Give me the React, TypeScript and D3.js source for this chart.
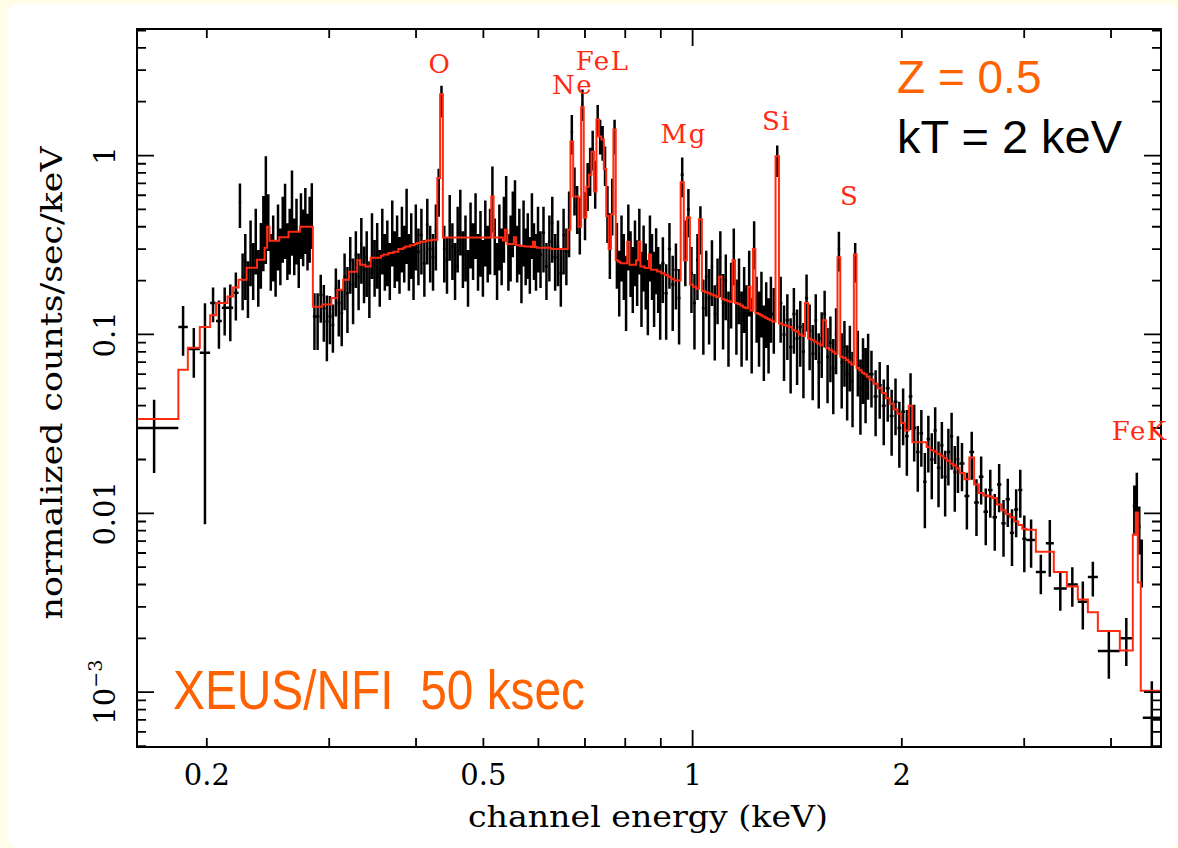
import React from 'react';
import * as d3 from 'd3';

// ---------- DATA ----------
// channel bin edges (keV), contiguous grouped channels
const binEdges = [
  0.155, 0.182, 0.1878, 0.1954, 0.2022, 0.2062, 0.2102, 0.2142, 0.2182, 0.2222,
  0.2242, 0.2262, 0.2282, 0.2302, 0.2322, 0.2342, 0.2362, 0.2382, 0.2402, 0.2422,
  0.2442, 0.2462, 0.2482, 0.2502, 0.2522, 0.2542, 0.2562, 0.2582, 0.2602, 0.2622,
  0.2642, 0.2662, 0.2682, 0.2702, 0.2722, 0.2742, 0.2762, 0.2782, 0.2802, 0.2822, 0.2842,
  0.2872, 0.2902, 0.2932, 0.2962, 0.2992, 0.3022, 0.3052, 0.3082, 0.3112, 0.3142,
  0.3172, 0.3202, 0.3232, 0.3262, 0.3292, 0.3322, 0.3352, 0.3382, 0.3412, 0.3442,
  0.3472, 0.3502, 0.3532, 0.3562, 0.3592, 0.3622, 0.3652, 0.3682, 0.3712, 0.3742,
  0.3772, 0.3802, 0.3832, 0.3862, 0.3892, 0.3922, 0.3952, 0.3982, 0.4012,
  0.4052, 0.4092, 0.4132, 0.4172, 0.4212, 0.4252, 0.4292, 0.4332, 0.4372, 0.4412,
  0.4452, 0.4492, 0.4532, 0.4572, 0.4612, 0.4652, 0.4692, 0.4732, 0.4772, 0.4812,
  0.4852, 0.4892, 0.4932, 0.4972, 0.5012, 0.5052, 0.5092, 0.5132, 0.5172, 0.5212,
  0.5252, 0.5292, 0.5332, 0.5372, 0.5412, 0.5452, 0.5492, 0.5532, 0.5572, 0.5612,
  0.5652, 0.5692, 0.5732, 0.5772, 0.5812, 0.5852, 0.5892, 0.5932, 0.5972, 0.6012,
  0.6072, 0.6132, 0.6192, 0.6252, 0.6312, 0.6372, 0.6432, 0.6492, 0.6552, 0.6612,
  0.6672, 0.6732, 0.6792, 0.6852, 0.6912, 0.6972, 0.7032, 0.7092, 0.7152, 0.7212,
  0.7272, 0.7332, 0.7392, 0.7452, 0.7512, 0.7572, 0.7632, 0.7692, 0.7752, 0.7812,
  0.7872, 0.7932, 0.7992, 0.8052, 0.8112, 0.8172, 0.8232, 0.8292, 0.8352, 0.8412,
  0.8472, 0.8532, 0.8592, 0.8652, 0.8712, 0.8772, 0.8832, 0.8892, 0.8952, 0.9012,
  0.9112, 0.9212, 0.9312, 0.9412, 0.9512, 0.9612, 0.9712, 0.9812, 0.9912, 1.0012,
  1.0112, 1.0212, 1.0312, 1.0412, 1.0512, 1.0612, 1.0712, 1.0812, 1.0912, 1.1012,
  1.1112, 1.1212, 1.1312, 1.1412, 1.1512, 1.1612, 1.1712, 1.1812, 1.1912, 1.2012,
  1.2112, 1.2212, 1.2312, 1.2412, 1.2512, 1.2612, 1.2712, 1.2812, 1.2912, 1.3012,
  1.3162, 1.3312, 1.3462, 1.3612, 1.3762, 1.3912, 1.4062, 1.4212, 1.4362, 1.4512,
  1.4662, 1.4812, 1.4962, 1.5112, 1.5262, 1.5412, 1.5562, 1.5712, 1.5862, 1.6012,
  1.6162, 1.6312, 1.6462, 1.6612, 1.6762, 1.6912, 1.7062, 1.7212, 1.7362, 1.7512,
  1.7662, 1.7812, 1.7962,
  1.8212, 1.8462, 1.8712, 1.8962, 1.9212, 1.9462, 1.9712, 1.9962, 2.0212, 2.0462,
  2.0712, 2.0962, 2.1212, 2.1462, 2.1712, 2.1962, 2.2212, 2.2462, 2.2712, 2.2962,
  2.3212, 2.3462, 2.3712, 2.3962, 2.4212,
  2.4612, 2.5012, 2.5412, 2.5812, 2.6212, 2.6612, 2.7012, 2.7412, 2.7812, 2.8212,
  2.8612, 2.9012, 2.9412, 2.9812, 3.0212,
  3.118, 3.2226, 3.309, 3.455, 3.583, 3.704, 3.829, 4.118, 4.299, 4.342,
  4.371, 4.414, 4.444, 4.717,
];

// observed normalized counts/sec/keV per bin
const counts = [
  0.030, 0.110, 0.083, 0.079, 0.150, 0.119, 0.141, 0.141, 0.171,
  0.546, 0.21, 0.26, 0.19, 0.31, 0.24, 0.36, 0.22, 0.30, 0.41,
  0.62, 0.45, 0.27, 0.33, 0.25, 0.38, 0.29, 0.42, 0.48, 0.31,
  0.36, 0.55, 0.33, 0.41, 0.28, 0.44, 0.37, 0.47, 0.35, 0.42, 0.50,
  0.126, 0.126, 0.166, 0.14, 0.118, 0.126, 0.113, 0.180, 0.15, 0.132,
  0.21, 0.17, 0.26, 0.19, 0.28, 0.21, 0.32, 0.23, 0.27, 0.19,
  0.34, 0.25, 0.30, 0.22, 0.36, 0.27, 0.31, 0.24, 0.40, 0.28,
  0.33, 0.26, 0.37, 0.30, 0.45, 0.27, 0.34, 0.24, 0.38,
  0.29, 0.36, 0.25, 0.41, 0.30, 0.27, 0.38, 0.65, 2.05, 0.30,
  0.26, 0.43, 0.31, 0.24, 0.37, 0.46, 0.28, 0.33, 0.22, 0.39,
  0.31, 0.44, 0.27, 0.35, 0.25, 0.40, 0.30, 0.36, 0.62, 0.33,
  0.24, 0.38, 0.29, 0.42, 0.55, 0.27, 0.33, 0.45, 0.52, 0.30,
  0.36, 0.23, 0.40, 0.29, 0.34, 0.26, 0.44, 0.31, 0.27, 0.37,
  0.28, 0.37, 0.24, 0.33, 0.42, 0.27, 0.31, 0.22, 0.36, 0.29,
  0.45, 1.35, 0.66, 0.52, 0.43, 1.95, 0.48, 0.70, 0.85, 1.1,
  0.72, 1.6, 1.3, 1.2, 0.9, 0.50, 0.34, 0.55, 1.3, 0.30,
  0.21, 0.33, 0.26, 0.19, 0.38, 0.27, 0.22, 0.31, 0.24, 0.36,
  0.20, 0.29, 0.23, 0.18, 0.33, 0.26, 0.20, 0.28, 0.22, 0.17,
  0.25, 0.17, 0.30, 0.19, 0.23, 0.16, 0.78, 0.31, 0.50, 0.22,
  0.15, 0.26, 0.40, 0.14, 0.21, 0.16, 0.24, 0.13, 0.19, 0.27,
  0.15, 0.20, 0.12, 0.18, 0.29, 0.14, 0.19, 0.12, 0.17, 0.13,
  0.21, 0.11, 0.33, 0.15, 0.12, 0.16, 0.10, 0.14, 0.11, 0.15,
  0.13, 0.95, 0.15, 0.10, 0.12, 0.085, 0.13, 0.095, 0.11, 0.08,
  0.16, 0.105, 0.078, 0.12, 0.07, 0.095, 0.13, 0.075, 0.09, 0.065,
  0.1, 0.30, 0.07, 0.085, 0.06, 0.08, 0.055, 0.26, 0.075, 0.05,
  0.068, 0.058, 0.072,
  0.06, 0.045, 0.052, 0.04, 0.05, 0.035, 0.042, 0.03, 0.037, 0.027,
  0.045, 0.03, 0.022, 0.028, 0.015, 0.026, 0.02, 0.029, 0.018, 0.024,
  0.016, 0.022, 0.027, 0.017, 0.02,
  0.019, 0.0125, 0.022, 0.0115, 0.016, 0.0102, 0.0135, 0.0095, 0.0145, 0.0088,
  0.012, 0.0078, 0.0105, 0.0135, 0.0072,
  0.0071, 0.0047, 0.0068, 0.0038, 0.0040, 0.0032, 0.0044, 0.0017, 0.0020, 0.011,
  0.0135, 0.0084, 0.0055, 0.00072,
];

// fractional 1-sigma errors per bin
const relErr = [
  0.44, 0.31, 0.31, 0.89, 0.22, 0.30, 0.30, 0.35, 0.30,
  0.28, 0.35, 0.4, 0.35, 0.4, 0.35, 0.4, 0.35, 0.4, 0.45,
  0.6, 0.35, 0.35, 0.4, 0.35, 0.4, 0.35, 0.4, 0.45, 0.35,
  0.4, 0.5, 0.35, 0.4, 0.35, 0.4, 0.35, 0.4, 0.35, 0.4, 0.4,
  0.35, 0.35, 0.3, 0.35, 0.4, 0.3, 0.3, 0.3, 0.35, 0.35,
  0.35, 0.4, 0.35, 0.4, 0.35, 0.35, 0.4, 0.35, 0.4, 0.35,
  0.4, 0.35, 0.4, 0.35, 0.4, 0.35, 0.4, 0.35, 0.4, 0.35,
  0.4, 0.35, 0.4, 0.35, 0.45, 0.35, 0.4, 0.35, 0.4,
  0.35, 0.4, 0.35, 0.4, 0.35, 0.35, 0.4, 0.3, 0.2, 0.35,
  0.35, 0.4, 0.35, 0.35, 0.4, 0.4, 0.35, 0.4, 0.35, 0.4,
  0.35, 0.4, 0.35, 0.4, 0.35, 0.4, 0.35, 0.4, 0.4, 0.35,
  0.35, 0.4, 0.35, 0.4, 0.4, 0.35, 0.4, 0.4, 0.4, 0.35,
  0.4, 0.35, 0.4, 0.35, 0.4, 0.35, 0.4, 0.35, 0.35, 0.4,
  0.35, 0.4, 0.35, 0.4, 0.4, 0.35, 0.4, 0.35, 0.4, 0.35,
  0.4, 0.25, 0.3, 0.3, 0.35, 0.2, 0.3, 0.3, 0.3, 0.25,
  0.3, 0.2, 0.22, 0.22, 0.25, 0.35, 0.4, 0.35, 0.22, 0.4,
  0.4, 0.4, 0.4, 0.45, 0.4, 0.4, 0.4, 0.4, 0.4, 0.4,
  0.45, 0.4, 0.4, 0.45, 0.4, 0.4, 0.45, 0.4, 0.4, 0.45,
  0.4, 0.45, 0.4, 0.45, 0.4, 0.45, 0.25, 0.4, 0.3, 0.4,
  0.45, 0.4, 0.3, 0.45, 0.4, 0.45, 0.4, 0.45, 0.4, 0.4,
  0.45, 0.4, 0.45, 0.4, 0.35, 0.45, 0.4, 0.45, 0.4, 0.45,
  0.4, 0.45, 0.3, 0.4, 0.45, 0.4, 0.45, 0.4, 0.45, 0.4,
  0.4, 0.2, 0.4, 0.45, 0.4, 0.45, 0.4, 0.45, 0.4, 0.45,
  0.35, 0.4, 0.45, 0.4, 0.45, 0.4, 0.35, 0.45, 0.4, 0.45,
  0.4, 0.25, 0.45, 0.4, 0.45, 0.4, 0.45, 0.25, 0.4, 0.45,
  0.4, 0.45, 0.4,
  0.35, 0.4, 0.35, 0.4, 0.35, 0.4, 0.35, 0.4, 0.35, 0.4,
  0.35, 0.35, 0.4, 0.35, 0.45, 0.35, 0.4, 0.35, 0.4, 0.35,
  0.4, 0.35, 0.35, 0.4, 0.35,
  0.3, 0.35, 0.3, 0.35, 0.3, 0.35, 0.3, 0.35, 0.3, 0.35,
  0.3, 0.35, 0.3, 0.3, 0.35,
  0.3, 0.25, 0.35, 0.25, 0.25, 0.3, 0.22, 0.3, 0.3, 0.3,
  0.25, 0.3, 0.3, 0.6,
];

// folded model (Z = 0.5, kT = 2 keV) per bin
const model = [
  0.0337, 0.0634, 0.0843, 0.110, 0.128, 0.150, 0.150, 0.163, 0.183,
  0.202, 0.202, 0.202, 0.236, 0.236, 0.236, 0.236, 0.262, 0.262, 0.262,
  0.305, 0.40, 0.334, 0.334, 0.334, 0.334, 0.35, 0.35, 0.35, 0.35,
  0.375, 0.375, 0.375, 0.375, 0.375, 0.40, 0.40, 0.40, 0.40, 0.40, 0.40,
  0.143, 0.143, 0.143, 0.147, 0.147, 0.147, 0.16, 0.16, 0.178, 0.178,
  0.202, 0.202, 0.224, 0.224, 0.224, 0.26, 0.245, 0.245, 0.24, 0.24,
  0.268, 0.268, 0.268, 0.268, 0.275, 0.28, 0.28, 0.285, 0.285, 0.29,
  0.29, 0.30, 0.30, 0.305, 0.31, 0.31, 0.315, 0.315, 0.32,
  0.325, 0.33, 0.33, 0.335, 0.335, 0.338, 0.338, 0.75, 2.2, 0.348,
  0.348, 0.348, 0.348, 0.348, 0.348, 0.348, 0.348, 0.348, 0.348, 0.348,
  0.348, 0.348, 0.348, 0.348, 0.348, 0.348, 0.348, 0.348, 0.59, 0.348,
  0.348, 0.348, 0.348, 0.335, 0.385, 0.32, 0.32, 0.32, 0.35, 0.315,
  0.315, 0.312, 0.312, 0.31, 0.31, 0.31, 0.308, 0.33, 0.308, 0.305,
  0.305, 0.305, 0.305, 0.305, 0.30, 0.30, 0.30, 0.30, 0.30, 0.30,
  0.385, 1.2, 0.59, 0.59, 0.40, 1.86, 0.45, 0.67, 0.78, 1.05,
  0.63, 1.59, 1.28, 1.23, 0.84, 0.46, 0.30, 0.47, 1.4, 0.26,
  0.255, 0.25, 0.25, 0.25, 0.33, 0.245, 0.245, 0.245, 0.26, 0.33,
  0.24, 0.24, 0.235, 0.235, 0.28, 0.23, 0.23, 0.23, 0.225, 0.225,
  0.22, 0.215, 0.21, 0.205, 0.20, 0.20, 0.71, 0.26, 0.45, 0.19,
  0.185, 0.18, 0.44, 0.175, 0.172, 0.17, 0.167, 0.165, 0.162, 0.21,
  0.158, 0.156, 0.154, 0.152, 0.26, 0.15, 0.148, 0.145, 0.142, 0.14,
  0.185, 0.136, 0.30, 0.132, 0.13, 0.128, 0.126, 0.124, 0.122, 0.12,
  0.118, 0.99, 0.115, 0.113, 0.112, 0.11, 0.106, 0.104, 0.10, 0.098,
  0.15, 0.095, 0.093, 0.091, 0.089, 0.087, 0.12, 0.084, 0.082, 0.08,
  0.078, 0.27, 0.075, 0.074, 0.072, 0.07, 0.068, 0.28, 0.065, 0.063,
  0.061, 0.06, 0.058,
  0.056, 0.053, 0.05, 0.047, 0.044, 0.041, 0.038, 0.036, 0.032, 0.029,
  0.04, 0.025, 0.025, 0.025, 0.025, 0.0235, 0.0226, 0.0222, 0.0215, 0.021,
  0.0203, 0.0197, 0.019, 0.0185, 0.0178,
  0.0168, 0.0155, 0.0205, 0.0145, 0.013, 0.0126, 0.0124, 0.0122, 0.0112, 0.0104,
  0.0099, 0.0095, 0.009, 0.0086, 0.0082,
  0.0081, 0.0061, 0.0061, 0.0047, 0.0039, 0.0033, 0.0028, 0.0022, 0.00171, 0.0076,
  0.0101, 0.0041, 0.00102, 0.00102,
];

// axis ticks
const xTickLabels = [
  { v: 0.2, t: '0.2' }, { v: 0.5, t: '0.5' }, { v: 1, t: '1' }, { v: 2, t: '2' },
];
const xMajorTicks = [1];
const xMinorTicks = [0.2, 0.3, 0.4, 0.5, 0.6, 0.7, 0.8, 0.9, 2, 3, 4];
const yMajorTicks = [0.001, 0.01, 0.1, 1];
const yMinorTicks = [
  0.0005, 0.0006, 0.0007, 0.0008, 0.0009,
  0.002, 0.003, 0.004, 0.005, 0.006, 0.007, 0.008, 0.009,
  0.02, 0.03, 0.04, 0.05, 0.06, 0.07, 0.08, 0.09,
  0.2, 0.3, 0.4, 0.5, 0.6, 0.7, 0.8, 0.9,
  2, 3, 4, 5,
];
const yTickLabels = [
  { v: 1, t: '1' }, { v: 0.1, t: '0.1' }, { v: 0.01, t: '0.01' },
];

// emission line labels (energy keV, value at label baseline)
const lineLabels = [
  { t: 'O', e: 0.433, v: 2.91 },
  { t: 'Ne', e: 0.672, v: 2.22 },
  { t: 'FeL', e: 0.742, v: 3.02 },
  { t: 'Mg', e: 0.971, v: 1.18 },
  { t: 'Si', e: 1.321, v: 1.398 },
  { t: 'S', e: 1.682, v: 0.532 },
  { t: 'FeK', e: 4.40, v: 0.0257 },
];

// ---------- LAYOUT ----------
const W = 1178;
const H = 848;
const P = { left: 137, right: 1161, top: 29, bottom: 747 };
const RED = '#ff2a12';
const ORANGE = '#ff6200';
const SERIF = '"DejaVu Serif", "Liberation Serif", serif';
const SANS = '"Liberation Sans", Arial, sans-serif';

export default function App() {
  const x = d3.scaleLog().domain([0.1587, 4.72]).range([P.left, P.right]);
  const y = d3.scaleLog().domain([4.94e-4, 5.1]).range([P.bottom, P.top]);

  const n = Math.min(counts.length, relErr.length, model.length, binEdges.length - 1);

  let errPath = '';
  for (let i = 0; i < n; i++) {
    const lo = binEdges[i];
    const hi = binEdges[i + 1];
    const c = Math.sqrt(lo * hi);
    const v = counts[i];
    const s = v * relErr[i];
    const top = y(v + s);
    const bot = v - s > 1e-6 ? y(v - s) : P.bottom + 10;
    const cx = x(c);
    const cy = y(v);
    errPath += `M${cx.toFixed(2)},${top.toFixed(2)}V${bot.toFixed(2)}`;
    errPath += `M${x(lo).toFixed(2)},${cy.toFixed(2)}H${x(hi).toFixed(2)}`;
  }

  const modelPts: [number, number][] = [];
  for (let i = 0; i < n; i++) modelPts.push([binEdges[i], model[i]]);
  modelPts.push([binEdges[n], model[n - 1]]);
  const modelLine = d3
    .line<[number, number]>()
    .x((d) => x(d[0]))
    .y((d) => y(d[1]))
    .curve(d3.curveStepAfter)(modelPts) || '';

  const MAJ = 17;
  const MIN = 9;
  let tickPath = '';
  xMajorTicks.forEach((t) => {
    const px = x(t);
    tickPath += `M${px},${P.bottom}V${P.bottom - MAJ}M${px},${P.top}V${P.top + MAJ}`;
  });
  xMinorTicks.forEach((t) => {
    const px = x(t);
    tickPath += `M${px},${P.bottom}V${P.bottom - MIN}M${px},${P.top}V${P.top + MIN}`;
  });
  yMajorTicks.forEach((t) => {
    const py = y(t);
    tickPath += `M${P.left},${py}H${P.left + MAJ}M${P.right},${py}H${P.right - MAJ}`;
  });
  yMinorTicks.forEach((t) => {
    const py = y(t);
    if (py < P.top - 0.5 || py > P.bottom + 0.5) return;
    tickPath += `M${P.left},${py}H${P.left + MIN}M${P.right},${py}H${P.right - MIN}`;
  });

  return (
    <div style={{ position: 'absolute', left: 0, top: 0 }}>
      <svg width={W} height={H} viewBox={`0 0 ${W} ${H}`} style={{ display: 'block' }}>
        <rect x={0} y={0} width={W} height={H} fill="#fffde8" />
        <rect x={8} y={4} width={W - 8} height={H - 4} rx={9} fill="#ffffff" />
        <defs>
          <clipPath id="plotClip">
            <rect x={P.left} y={P.top} width={P.right - P.left} height={P.bottom - P.top} />
          </clipPath>
        </defs>

        <g clipPath="url(#plotClip)">
          <path d={errPath} stroke="#000" strokeWidth={2.5} fill="none" />
          <path d={modelLine} stroke={RED} strokeWidth={2} fill="none" strokeLinejoin="miter" />
        </g>

        {/* frame and ticks */}
        <rect
          x={P.left}
          y={P.top}
          width={P.right - P.left}
          height={P.bottom - P.top}
          fill="none"
          stroke="#000"
          strokeWidth={2}
        />
        <path d={tickPath} stroke="#000" strokeWidth={1.8} fill="none" />

        {/* x tick labels */}
        {xTickLabels.map((d) => (
          <text
            key={d.t}
            x={x(d.v)}
            y={785}
            textAnchor="middle"
            fontFamily={SERIF}
            fontSize={29}
            fill="#000"
          >
            {d.t}
          </text>
        ))}
        {/* y tick labels (rotated) */}
        {yTickLabels.map((d) => (
          <text
            key={d.t}
            transform={`translate(115,${y(d.v)}) rotate(-90)`}
            textAnchor="middle"
            fontFamily={SERIF}
            fontSize={29}
            fill="#000"
          >
            {d.t}
          </text>
        ))}
        <text
          transform={`translate(115,${y(0.001)}) rotate(-90)`}
          textAnchor="middle"
          fontFamily={SERIF}
          fontSize={29}
          fill="#000"
        >
          10
          <tspan dy={-13} fontSize={19}>
            −3
          </tspan>
        </text>

        {/* axis titles */}
        <text
          x={648}
          y={827}
          textAnchor="middle"
          fontFamily={SERIF}
          fontSize={29}
          textLength={360}
          lengthAdjust="spacingAndGlyphs"
          fill="#000"
        >
          channel energy (keV)
        </text>
        <text
          transform="translate(62,383) rotate(-90)"
          textAnchor="middle"
          fontFamily={SERIF}
          fontSize={29}
          textLength={473}
          lengthAdjust="spacingAndGlyphs"
          fill="#000"
        >
          normalized counts/sec/keV
        </text>

        {/* line labels */}
        {lineLabels.map((d) => (
          <text
            key={d.t}
            x={x(d.e)}
            y={y(d.v)}
            textAnchor="middle"
            fontFamily={SERIF}
            fontSize={26}
            letterSpacing={1.5}
            fill={RED}
          >
            {d.t}
          </text>
        ))}

        {/* annotations */}
        <text x={897} y={93} fontFamily={SANS} fontSize={46} fill={ORANGE}>
          Z = 0.5
        </text>
        <text x={897} y={153} fontFamily={SANS} fontSize={47} fill="#000">
          kT = 2 keV
        </text>
        <text
          x={173}
          y={709}
          fontFamily={SANS}
          fontSize={56}
          fill={ORANGE}
          textLength={412}
          lengthAdjust="spacingAndGlyphs"
          style={{ whiteSpace: 'pre' }}
        >
          {'XEUS/NFI  50 ksec'}
        </text>
      </svg>
    </div>
  );
}
